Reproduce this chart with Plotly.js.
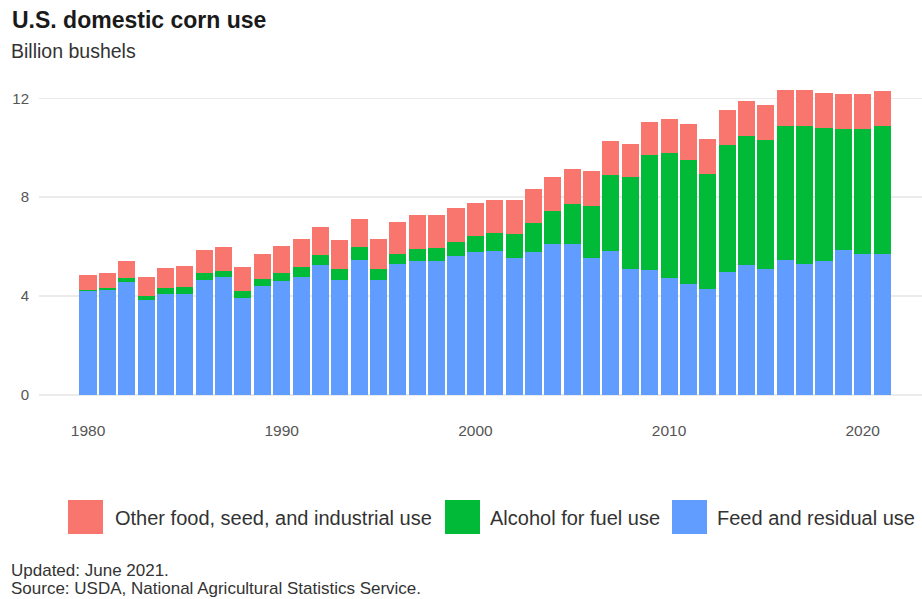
<!DOCTYPE html>
<html>
<head>
<meta charset="utf-8">
<script src="https://cdn.plot.ly/plotly-3.0.1.min.js"></script>
<style>
  html, body { margin: 0; padding: 0; background: #fff; }
  #chart { width: 922px; height: 599px; }
</style>
</head>
<body>
<div id="chart"></div>
<script>
// U.S. domestic corn use by category, billion bushels (marketing years 1980-2021)
const years = [
  1980, 1981, 1982, 1983, 1984, 1985, 1986, 1987, 1988, 1989,
  1990, 1991, 1992, 1993, 1994, 1995, 1996, 1997, 1998, 1999,
  2000, 2001, 2002, 2003, 2004, 2005, 2006, 2007, 2008, 2009,
  2010, 2011, 2012, 2013, 2014, 2015, 2016, 2017, 2018, 2019,
  2020, 2021
];

const feedResidual = [
  4.21, 4.23, 4.56, 3.85, 4.09, 4.09, 4.66, 4.78, 3.94, 4.39,
  4.60, 4.76, 5.25, 4.66, 5.46, 4.66, 5.29, 5.44, 5.44, 5.63,
  5.77, 5.84, 5.53, 5.77, 6.11, 6.10, 5.53, 5.84, 5.11, 5.06,
  4.74, 4.50, 4.28, 4.99, 5.26, 5.10, 5.45, 5.29, 5.41, 5.87,
  5.71, 5.71
];

const alcoholFuel = [
  0.04, 0.09, 0.17, 0.17, 0.23, 0.27, 0.27, 0.25, 0.25, 0.30,
  0.33, 0.42, 0.43, 0.45, 0.52, 0.43, 0.40, 0.48, 0.49, 0.57,
  0.66, 0.70, 0.98, 1.20, 1.34, 1.61, 2.11, 3.06, 3.71, 4.63,
  5.04, 4.99, 4.65, 5.14, 5.22, 5.23, 5.44, 5.60, 5.39, 4.88,
  5.04, 5.18
];

const otherFSI = [
  0.61, 0.63, 0.69, 0.77, 0.83, 0.87, 0.94, 0.97, 1.00, 1.02,
  1.10, 1.13, 1.13, 1.16, 1.16, 1.21, 1.29, 1.36, 1.35, 1.35,
  1.34, 1.34, 1.37, 1.37, 1.37, 1.42, 1.43, 1.37, 1.32, 1.34,
  1.40, 1.46, 1.41, 1.41, 1.41, 1.42, 1.46, 1.46, 1.42, 1.41,
  1.41, 1.40
];

const seriesNames = [
  "Other food, seed, and industrial use",
  "Alcohol for fuel use",
  "Feed and residual use"
];
const seriesColors = ["#F8766D", "#00BA38", "#619CFF"];

const xTicks = [1980, 1990, 2000, 2010, 2020];
const yTicks = [0, 4, 8, 12];

// Plot-area geometry in pixels, used to place the header, legend and footer
const FIG_W = 922, FIG_H = 599;
const M = { l: 39, r: 0, t: 86, b: 204 };
const PW = FIG_W - M.l - M.r;
const PH = FIG_H - M.t - M.b;
const fx = px => (px - M.l) / PW;
const fy = py => (M.t + PH - py) / PH;

const FONT = "Liberation Sans, Arial, Helvetica, sans-serif";

// Bottom-to-top stacking: feed, alcohol, other
const traces = [
  { y: feedResidual, name: seriesNames[2], color: seriesColors[2] },
  { y: alcoholFuel,  name: seriesNames[1], color: seriesColors[1] },
  { y: otherFSI,     name: seriesNames[0], color: seriesColors[0] }
].map(s => ({
  type: "bar",
  x: years,
  y: s.y,
  name: s.name,
  marker: { color: s.color, line: { width: 0 } },
  hoverinfo: "x+y+name",
  showlegend: false
}));

const annotations = [];
const shapes = [];

function addText(text, xpx, ypx, size, color, bold) {
  annotations.push({
    xref: "paper", yref: "paper",
    x: fx(xpx), y: fy(ypx),
    xanchor: "left", yanchor: "middle",
    text: bold ? "<b>" + text + "</b>" : text,
    showarrow: false,
    font: { family: FONT, size: size, color: color }
  });
}

// Header
addText("U.S. domestic corn use", 10, 20, 23, "#1a1a1a", true);
addText("Billion bushels", 9, 51, 19.5, "#333333", false);

// Legend: large square swatches with labels
const legendItems = [
  { swatch: 68,  label: 113 },
  { swatch: 445, label: 488 },
  { swatch: 672, label: 715 }
];
legendItems.forEach((it, i) => {
  shapes.push({
    type: "rect", xref: "paper", yref: "paper",
    x0: fx(it.swatch), x1: fx(it.swatch + 35),
    y0: fy(534), y1: fy(500),
    fillcolor: seriesColors[i], line: { width: 0 }
  });
  addText(seriesNames[i], it.label, 518, 20, "#333333", false);
});

// Footer
addText("Updated: June 2021.", 9, 570, 17, "#333333", false);
addText("Source: USDA, National Agricultural Statistics Service.", 9, 588, 17, "#333333", false);

const layout = {
  width: FIG_W,
  height: FIG_H,
  margin: M,
  paper_bgcolor: "#ffffff",
  plot_bgcolor: "#ffffff",
  barmode: "stack",
  bargap: 0.12,
  font: { family: FONT, color: "#555555" },
  xaxis: {
    range: [1977.47, 2023.06],
    tickmode: "array",
    tickvals: xTicks,
    ticktext: xTicks.map(String),
    showgrid: false,
    zeroline: false,
    showline: false,
    ticks: "",
    ticklabelstandoff: 24,
    tickfont: { family: FONT, size: 15.5, color: "#555555" },
    fixedrange: true
  },
  yaxis: {
    range: [0, 12.5],
    tickmode: "array",
    tickvals: yTicks,
    ticktext: yTicks.map(String),
    showgrid: true,
    gridcolor: "#ebebeb",
    gridwidth: 1.6,
    zeroline: true,
    zerolinecolor: "#ebebeb",
    zerolinewidth: 1.6,
    showline: false,
    ticks: "",
    ticklabelstandoff: 9,
    tickfont: { family: FONT, size: 15, color: "#555555" },
    fixedrange: true
  },
  annotations: annotations,
  shapes: shapes,
  showlegend: false
};

Plotly.newPlot("chart", traces, layout, { displayModeBar: false, staticPlot: true });
</script>
</body>
</html>
